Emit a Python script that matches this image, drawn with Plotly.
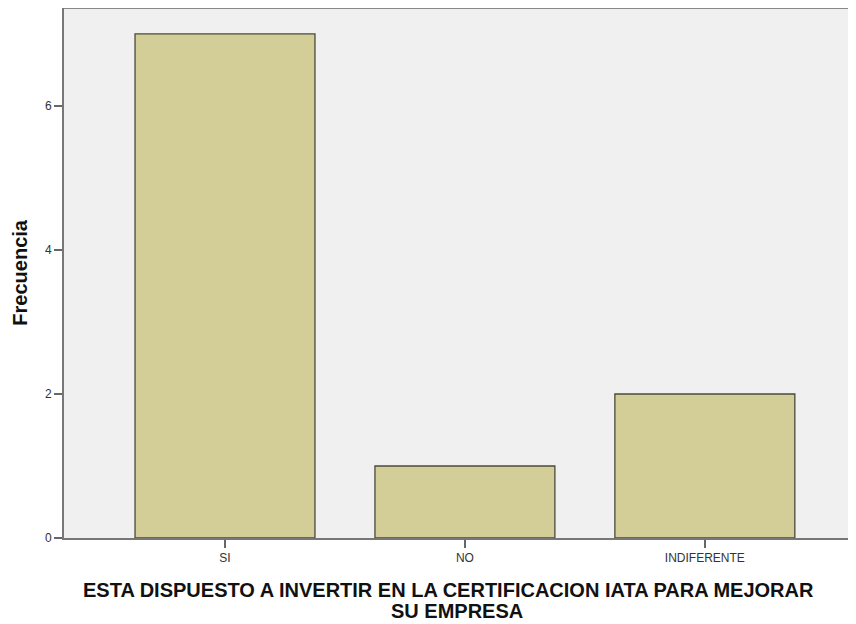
import plotly.graph_objects as go

categories = ["SI", "NO", "INDIFERENTE"]
frecuencia = [7, 1, 2]
y_ticks = [0, 2, 4, 6]
x_title_lines = ["ESTA DISPUESTO A INVERTIR EN LA CERTIFICACION IATA PARA MEJORAR", "SU EMPRESA"]
y_title = "Frecuencia"

fig = go.Figure()
fig.add_trace(go.Bar(
    x=categories, y=frecuencia, width=0.75,
    marker=dict(color="#D3CE97", line=dict(color="#4A4A3A", width=1.3)),
))

fig.update_layout(
    width=848, height=616,
    margin=dict(l=56, r=0, t=0, b=86),
    paper_bgcolor="white", plot_bgcolor="#F0F0F0",
    showlegend=False,
    font=dict(family="Arial, Liberation Sans, sans-serif", color="#222"),
    xaxis=dict(
        range=[-0.671, 2.63], showgrid=False, zeroline=False,
        showline=True, linecolor="#777", linewidth=2,
        ticks="outside", ticklen=8, tickcolor="#666", tickwidth=1.5,
        tickfont=dict(size=12, color="#333"),
    ),
    yaxis=dict(
        range=[0, 7.36], showgrid=False, zeroline=False,
        showline=True, linecolor="#777", linewidth=2,
        tickvals=y_ticks, ticks="outside", ticklen=8, tickcolor="#666", tickwidth=1.5,
        tickfont=dict(size=12, color="#333"),
    ),
)
for txt, xp, yp in zip(x_title_lines, [0.486, 0.496], [-0.098, -0.138]):
    fig.add_annotation(text="<b>" + txt + "</b>", xref="paper", yref="paper", x=xp, y=yp,
                       xanchor="center", yanchor="middle", showarrow=False,
                       font=dict(size=20, color="#111"))
fig.add_annotation(text="<b>" + y_title + "</b>", xref="paper", yref="paper", x=-0.056, y=0.5,
                   xanchor="center", yanchor="middle", textangle=-90, showarrow=False,
                   font=dict(size=20, color="#111"))
fig.add_shape(type="line", xref="paper", yref="paper", x0=0, x1=1, y0=1, y1=1,
              line=dict(color="#888", width=2))

fig.write_html("out.html")
